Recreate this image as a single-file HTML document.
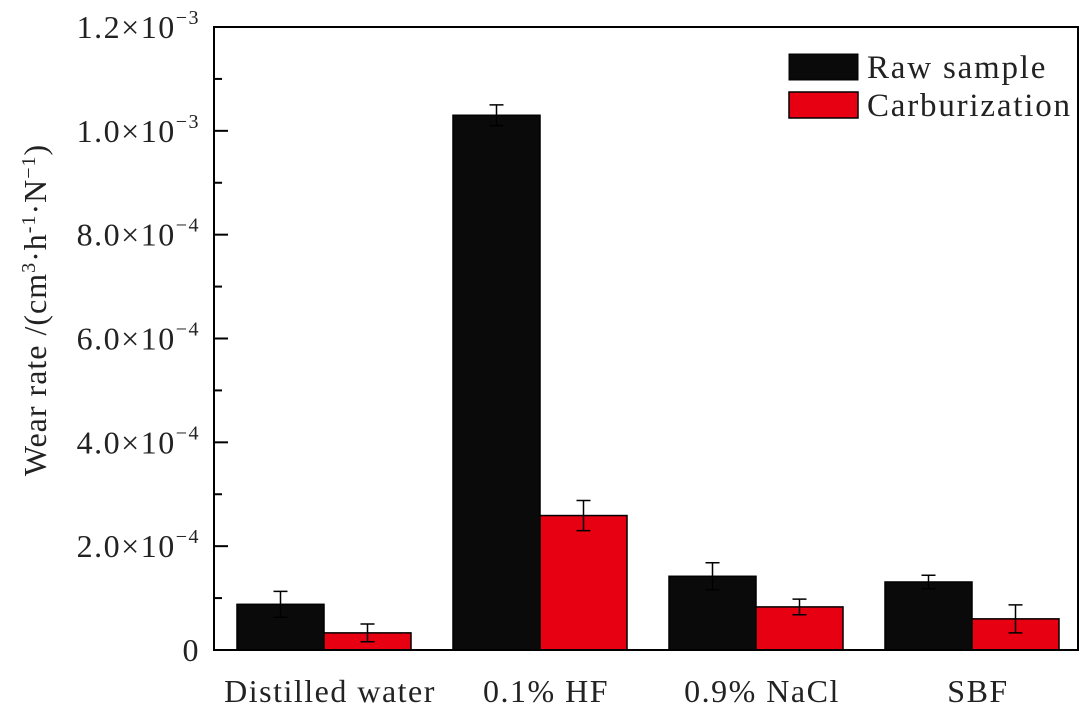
<!DOCTYPE html>
<html><head><meta charset="utf-8"><style>
body{margin:0;background:#fff;}
svg{display:block;font-family:"Liberation Serif",serif;}
</style></head><body>
<svg id="chart" width="1080" height="713" viewBox="0 0 1080 713">
<g id="ticks"></g>
<g id="bars"></g>
<rect x="214" y="27" width="864" height="623" fill="none" stroke="#000" stroke-width="2"/>
<text transform="translate(46,310) rotate(-90)" text-anchor="middle" font-size="32" letter-spacing="1" fill="#222">Wear rate /(cm<tspan font-size="20" dy="-11">3</tspan><tspan dy="11">·h</tspan><tspan font-size="20" dy="-11">-1</tspan><tspan dy="11">·N</tspan><tspan font-size="20" dy="-11">−1</tspan><tspan dy="11">)</tspan></text>
<g>
<rect x="789" y="54" width="69" height="26" fill="#0a0a0a" stroke="#000"/>
<text x="867" y="78" font-size="33" letter-spacing="1.8" fill="#222">Raw sample</text>
<rect x="789" y="92" width="69" height="26" fill="#e60012" stroke="#000" stroke-width="1.5"/>
<text x="867" y="116" font-size="33" letter-spacing="1.8" fill="#222">Carburization</text>
</g>
</svg>
<script>
const categories=["Distilled water","0.1% HF","0.9% NaCl","SBF"];
const rawValues=[0.88,10.3,1.42,1.31];
const rawErrors=[0.25,0.2,0.26,0.13];
const carbValues=[0.33,2.59,0.83,0.60];
const carbErrors=[0.17,0.29,0.15,0.27];
const yTicks=[0,2,4,6,8,10,12];
const yTickLabels=["0","2.0×10","4.0×10","6.0×10","8.0×10","1.0×10","1.2×10"];
const yTickExp=["","−4","−4","−4","−4","−3","−3"];
const NS="http://www.w3.org/2000/svg";
const y0=650,yTop=27,yMax=12;
function y(v){return y0-(v/yMax)*(y0-yTop);}
function xc(i){return 324+216*i;}
const bw=87;
const tg=document.getElementById('ticks');
for(let t=0;t<=12;t++){
 const l=document.createElementNS(NS,'line');
 
 
 const major=t%2===0;
 l.setAttribute('x1',214);l.setAttribute('x2',214+(major?14:8));
 l.setAttribute('y1',y(t));l.setAttribute('y2',y(t));
 l.setAttribute('stroke','#000');l.setAttribute('stroke-width',2);
 tg.appendChild(l);
}
yTicks.forEach((t,i)=>{
 const tx=document.createElementNS(NS,'text');
 
 
 tx.setAttribute('x',200);tx.setAttribute('y',y(t)+11);
 tx.setAttribute('text-anchor','end');tx.setAttribute('font-size','32');tx.setAttribute('letter-spacing','1.5');tx.setAttribute('fill','#222');
 if(yTickExp[i]){
  tx.innerHTML=yTickLabels[i]+'<tspan font-size="20" dy="-14">'+yTickExp[i]+'</tspan>';
 } else tx.textContent=yTickLabels[i];
 tg.appendChild(tx);
});
const bg=document.getElementById('bars');
function bar(x,v,e,fill,name){
 const r=document.createElementNS(NS,'rect');
 
 
 r.setAttribute('x',x);r.setAttribute('y',y(v));r.setAttribute('width',bw);r.setAttribute('height',y0-y(v));
 r.setAttribute('fill',fill);r.setAttribute('stroke','#000');r.setAttribute('stroke-width',1.5);
 bg.appendChild(r);
 const cx=x+bw/2;
 const p=document.createElementNS(NS,'path');
 
 
 p.setAttribute('d',`M${cx},${y(v+e)}V${y(v-e)}M${cx-7},${y(v+e)}h14M${cx-7},${y(v-e)}h14`);
 p.setAttribute('stroke','#000');p.setAttribute('stroke-width',1.5);p.setAttribute('fill','none');
 bg.appendChild(p);
}
categories.forEach((c,i)=>{
 bar(xc(i)-bw,rawValues[i],rawErrors[i],'#0a0a0a','bar-raw');
 bar(xc(i),carbValues[i],carbErrors[i],'#e60012','bar-carburization');
 const t=document.createElementNS(NS,'text');
 
 
 t.setAttribute('x',xc(i)+6);t.setAttribute('y',702);
 t.setAttribute('text-anchor','middle');t.setAttribute('font-size','32');t.setAttribute('letter-spacing','1.5');t.setAttribute('fill','#222');
 t.textContent=c;
 bg.appendChild(t);
});
</script>
</body></html>
